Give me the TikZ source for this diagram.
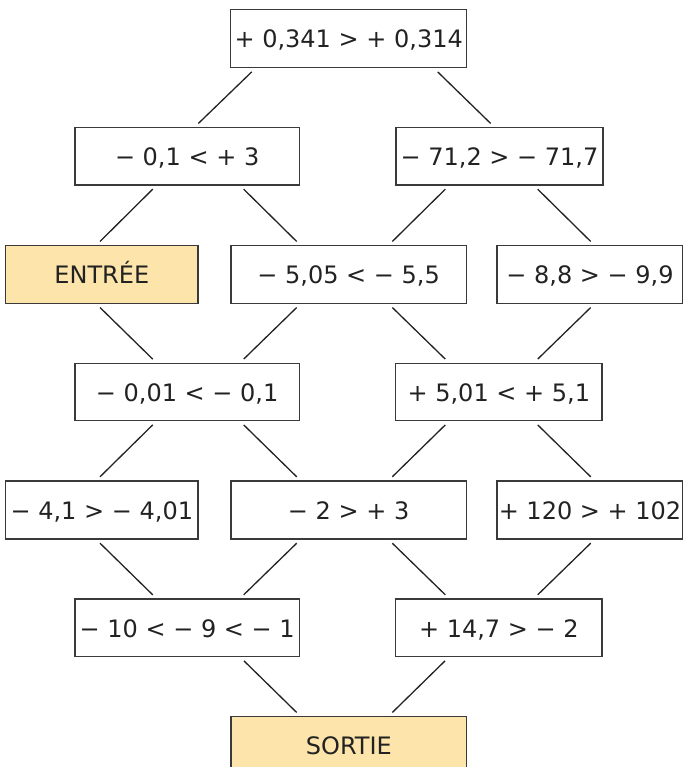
\documentclass[tikz,border=0pt]{standalone}
\usepackage{fontspec}
\setmainfont{DejaVu Sans}
\usetikzlibrary{calc}
\definecolor{boxfill}{RGB}{252,228,170}
\definecolor{edge}{RGB}{58,58,58}
\definecolor{ink}{RGB}{34,34,34}
\newcommand\lnk[4]{\draw[conn] ($(#2,0 |- #1.south)+(0,3.5)$) -- ($(#4,0 |- #3.north)+(0,-3.5)$);}
\begin{document}
\begin{tikzpicture}[x=1pt,y=-1pt,
  box/.style={draw=edge,line width=1.4pt,inner sep=0pt,text=ink,
    font=\fontsize{24}{28}\selectfont,text height=18.5pt,text depth=0pt},
  hl/.style={box,fill=boxfill},
  conn/.style={draw=ink,line width=1.3pt}]
\useasboundingbox (0,0) rectangle (682,767);
% row 1
\node[box,minimum width=236pt,minimum height=58.4pt] (A) at (348.7,38.5) {+ 0,341 > + 0,314};
% row 2
\node[box,minimum width=224.3pt,minimum height=57.3pt] (B) at (187.15,156.35) {− 0,1 < + 3};
\node[box,minimum width=207pt,minimum height=57.3pt] (C) at (499.5,156.35) {− 71,2 > − 71,7};
% row 3
\node[hl,minimum width=192.3pt,minimum height=57.6pt] (D) at (101.85,274.5) {ENTRÉE};
\node[box,minimum width=235.3pt,minimum height=57.6pt] (E) at (348.65,274.5) {− 5,05 < − 5,5};
\node[box,minimum width=186pt,minimum height=57.6pt] (F) at (590,274.5) {− 8,8 > − 9,9};
% row 4
\node[box,minimum width=224.3pt,minimum height=57.4pt] (G) at (187.15,392) {− 0,01 < − 0,1};
\node[box,minimum width=206.3pt,minimum height=57.4pt] (H) at (498.85,392) {+ 5,01 < + 5,1};
% row 5
\node[box,minimum width=192.3pt,minimum height=58pt] (I) at (101.85,510) {− 4,1 > − 4,01};
\node[box,minimum width=235.3pt,minimum height=58pt] (J) at (348.65,510) {− 2 > + 3};
\node[box,minimum width=186pt,minimum height=58pt] (K) at (590,510) {+ 120 > + 102};
% row 6
\node[box,minimum width=224.3pt,minimum height=57.7pt] (L) at (187.15,627.85) {− 10 < − 9 < − 1};
\node[box,minimum width=206.3pt,minimum height=57.7pt] (M) at (498.85,627.85) {+ 14,7 > − 2};
% row 7
\node[hl,minimum width=235.7pt,minimum height=57.3pt] (N) at (348.85,745.35) {SORTIE};
% connectors
\lnk{A}{251.7}{B}{198.3}
\lnk{A}{437.7}{C}{490.7}
\lnk{B}{152.7}{D}{100}
\lnk{B}{243.7}{E}{296.7}
\lnk{C}{445.3}{E}{392.3}
\lnk{C}{537.7}{F}{590.7}
\lnk{D}{100}{G}{152.7}
\lnk{E}{296.7}{G}{243.7}
\lnk{E}{392.3}{H}{445.3}
\lnk{F}{590.7}{H}{537.7}
\lnk{G}{152.7}{I}{100}
\lnk{G}{243.7}{J}{296.7}
\lnk{H}{445.3}{J}{392.3}
\lnk{H}{537.7}{K}{590.7}
\lnk{I}{100}{L}{152.7}
\lnk{J}{296.7}{L}{243.7}
\lnk{J}{392.3}{M}{445.3}
\lnk{K}{590.7}{M}{537.7}
\lnk{L}{244}{N}{296.7}
\lnk{M}{445}{N}{392.3}
\end{tikzpicture}
\end{document}
